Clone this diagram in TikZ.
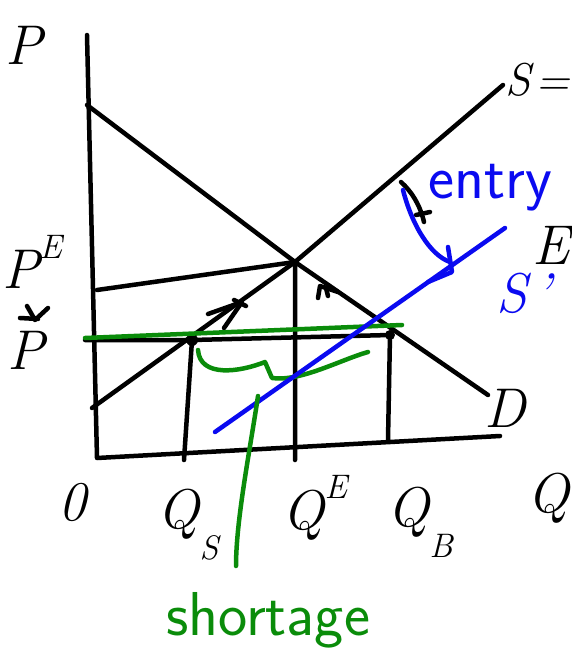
\documentclass[tikz,border=0pt]{standalone}
\usepackage{amsmath}
\usepackage{amssymb}
\usepackage{tikz}
\usepackage{xcolor}

\definecolor{penblue}{RGB}{10,10,240}
\definecolor{pengreen}{RGB}{10,140,10}

\newcommand{\supE}[1]{\raisebox{0.55em}{\fontsize{34}{34}\selectfont #1}}
\newcommand{\subS}[1]{\raisebox{-0.55em}{\fontsize{34}{34}\selectfont #1}}

\begin{document}
\begin{tikzpicture}[x=1pt, y=-1pt,
  ink/.style={line width=4.5pt, line cap=round, line join=round},
  lbl/.style={font=\fontsize{56}{60}\selectfont\itshape, inner sep=0pt},
  word/.style={font=\fontsize{62}{66}\selectfont\sffamily, inner sep=0pt}]
\useasboundingbox (0,0) rectangle (571,661);

% axes
\coordinate (ptop) at (87,35);
\coordinate (orig) at (97,458);
\coordinate (qend) at (500,436);
\draw[ink] (ptop) -- (orig) -- (qend);

% demand and supply
\coordinate (d0) at (87,105);
\coordinate (d1) at (488,395);
\coordinate (s0) at (92,408);
\coordinate (s1) at (503,85);
\coordinate (eq) at (295,262);
\draw[ink] (d0) -- (eq) -- (d1);
\draw[ink] (s0) -- (eq) -- (s1);

% equilibrium lines
\coordinate (pe) at (97,290);
\coordinate (qe) at (295,460);
\draw[ink] (pe) -- (eq) -- (qe);

% price ceiling and quantities
\coordinate (pc0) at (85,340);
\coordinate (qs) at (192,340);
\coordinate (qb) at (390,335);
\coordinate (qsbot) at (184,460);
\coordinate (qbbot) at (388,440);
\draw[ink] (pc0) -- (qs) -- (qb);
\draw[ink] (qs) -- (qsbot);
\draw[ink] (qb) -- (qbbot);
\fill (qs) circle (6pt);
\fill (qb) circle (5pt);

% arrows toward equilibrium
\draw[ink] (208,314) -- (242,302) -- (224,328);
\draw[ink] (234,300) -- (246,306);
\draw[ink] (318,298) -- (320,286) -- (338,292);
\draw[ink] (328,296) -- (326,288);

% green ceiling line and brace
\coordinate (gl0) at (85,338);
\coordinate (gl1) at (402,325);
\draw[ink, pengreen] (gl0) -- (gl1);
\coordinate (br0) at (198,350);
\coordinate (br1) at (368,352);
\draw[ink, pengreen] (br0) .. controls (200,378) and (240,372) .. (265,362)
  -- (272,378) .. controls (300,382) and (340,360) .. (br1);

% entry shift
\coordinate (sp0) at (215,432);
\coordinate (sp1) at (505,228);
\draw[ink, penblue] (sp0) -- (sp1);
\draw[ink] (401,182) .. controls (412,192) and (420,205) .. (424,222);
\draw[ink] (416,215) -- (430,212);
\coordinate (en0) at (403,190);
\coordinate (en1) at (450,262);
\draw[ink, penblue] (en0) .. controls (412,225) and (430,255) .. (en1);
\draw[ink, penblue] (428,282) -- (452,272) -- (448,247);

% mark over the lower price
\draw[ink] (27,306) -- (35,320) -- (48,308);
\draw[ink] (20,318) -- (38,319);

% labels
\node[lbl] (plab) at (24,45) {P};
\node[lbl] (qlab) at (548,498) {Q};
\node[lbl] (olab) at (72,502) {0};
\node[lbl] (pelab) at (32,262) {P\supE{E}};
\node[lbl] (pslab) at (26,350) {P};
\node[lbl] (qslab) at (188,525) {Q\subS{S}};
\node[lbl] (qelab) at (315,508) {Q\supE{E}};
\node[lbl] (qblab) at (420,522) {Q\subS{B}};
\node[lbl] (dlab) at (505,408) {D};
\node[lbl, anchor=east, font=\fontsize{46}{50}\selectfont\itshape] (slab) at (570,80) {S\kern0.1em=};
\node[lbl, anchor=east] (elab) at (570,245) {E};
\node[lbl, penblue] (splab) at (524,293) {S\kern0.12em'};
\node[word, penblue] (entry) at (490,188) {entry};
\node[word, pengreen] (short) at (268,620) {shortage};

% pointer to shortage
\coordinate (gp0) at (258,396);
\coordinate (gp1) at (236,566);
\draw[ink, pengreen] (gp0) .. controls (250,450) and (236,520) .. (gp1);
\end{tikzpicture}
\end{document}
